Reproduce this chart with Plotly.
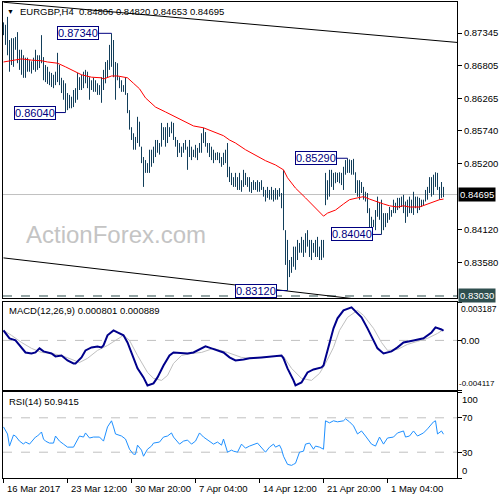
import plotly.graph_objects as go

# ---------------- data ----------------
chart_title = "EURGBP,H4  0.84806 0.84820 0.84653 0.84695"
macd_title = "MACD(12,26,9) 0.000801 0.000889"
rsi_title = "RSI(14) 50.9415"
watermark = "ActionForex.com"

highs = [
    0.8752, 0.8748, 0.8761, 0.8723, 0.8726, 0.8726, 0.8728, 0.8736, 0.8707, 0.8707,
    0.8698, 0.8694, 0.8694, 0.8690, 0.8688, 0.8694, 0.8707, 0.8698, 0.8698, 0.8731,
    0.8695, 0.8682, 0.8679, 0.8671, 0.8669, 0.8666, 0.8671, 0.8702, 0.8682, 0.8661,
    0.8657, 0.8652, 0.8636, 0.8633, 0.8630, 0.8641, 0.8644, 0.8669, 0.8662, 0.8666,
    0.8671, 0.8674, 0.8671, 0.8662, 0.8657, 0.8661, 0.8657, 0.8652, 0.8649, 0.8662,
    0.8674, 0.8687, 0.8690, 0.8715, 0.8734, 0.8723, 0.8687, 0.8685, 0.8662, 0.8657,
    0.8649, 0.8662, 0.8636, 0.8608, 0.8580, 0.8570, 0.8564, 0.8597, 0.8589, 0.8548,
    0.8531, 0.8526, 0.8521, 0.8543, 0.8543, 0.8548, 0.8559, 0.8559, 0.8554, 0.8587,
    0.8580, 0.8580, 0.8587, 0.8580, 0.8589, 0.8587, 0.8564, 0.8559, 0.8554, 0.8548,
    0.8554, 0.8559, 0.8548, 0.8559, 0.8548, 0.8543, 0.8551, 0.8546, 0.8554, 0.8570,
    0.8579, 0.8572, 0.8554, 0.8554, 0.8548, 0.8543, 0.8538, 0.8539, 0.8538, 0.8531,
    0.8538, 0.8543, 0.8554, 0.8515, 0.8505, 0.8498, 0.8505, 0.8498, 0.8505, 0.8493,
    0.8510, 0.8505, 0.8498, 0.8498, 0.8490, 0.8493, 0.8490, 0.8493, 0.8490, 0.8493,
    0.8482, 0.8477, 0.8482, 0.8477, 0.8482, 0.8477, 0.8480, 0.8477, 0.8480, 0.8472,
    0.8510, 0.8411, 0.8395, 0.8362, 0.8367, 0.8384, 0.8384, 0.8395, 0.8390, 0.8400,
    0.8395, 0.8406, 0.8411, 0.8395, 0.8395, 0.8390, 0.8395, 0.8400, 0.8384, 0.8395,
    0.8395, 0.8505, 0.8493, 0.8510, 0.8510, 0.8505, 0.8506, 0.8505, 0.8506, 0.8505,
    0.8515, 0.8526, 0.8529, 0.8527, 0.8526, 0.8528, 0.8506, 0.8493, 0.8493, 0.8490,
    0.8482, 0.8474, 0.8472, 0.8447, 0.8433, 0.8428, 0.8444, 0.8466, 0.8456, 0.8461,
    0.8439, 0.8439, 0.8439, 0.8449, 0.8444, 0.8461, 0.8456, 0.8464, 0.8464, 0.8466,
    0.8469, 0.8458, 0.8461, 0.8466, 0.8461, 0.8474, 0.8466, 0.8466, 0.8464, 0.8461,
    0.8461, 0.8477, 0.8482, 0.8498, 0.8498, 0.8502, 0.8506, 0.8505, 0.8482, 0.8490,
    0.84820,
]

lows = [
    0.8731, 0.8715, 0.8698, 0.8671, 0.8682, 0.8679, 0.8707, 0.8685, 0.8674, 0.8666,
    0.8661, 0.8661, 0.8671, 0.8671, 0.8668, 0.8674, 0.8671, 0.8674, 0.8677, 0.8685,
    0.8657, 0.8654, 0.8651, 0.8649, 0.8646, 0.8644, 0.8649, 0.8654, 0.8649, 0.8636,
    0.8625, 0.8604, 0.8608, 0.8611, 0.8611, 0.8613, 0.8620, 0.8625, 0.8641, 0.8641,
    0.8644, 0.8652, 0.8644, 0.8625, 0.8641, 0.8638, 0.8638, 0.8633, 0.8633, 0.8620,
    0.8641, 0.8652, 0.8662, 0.8674, 0.8679, 0.8662, 0.8625, 0.8657, 0.8644, 0.8638,
    0.8638, 0.8633, 0.8603, 0.8576, 0.8559, 0.8543, 0.8543, 0.8554, 0.8548, 0.8521,
    0.8482, 0.8505, 0.8505, 0.8505, 0.8515, 0.8521, 0.8531, 0.8538, 0.8535, 0.8548,
    0.8559, 0.8548, 0.8554, 0.8564, 0.8570, 0.8559, 0.8548, 0.8531, 0.8538, 0.8531,
    0.8538, 0.8543, 0.8510, 0.8531, 0.8526, 0.8531, 0.8530, 0.8526, 0.8538, 0.8538,
    0.8554, 0.8548, 0.8538, 0.8531, 0.8526, 0.8521, 0.8526, 0.8526, 0.8521, 0.8515,
    0.8518, 0.8521, 0.8498, 0.8490, 0.8485, 0.8482, 0.8482, 0.8477, 0.8477, 0.8474,
    0.8482, 0.8485, 0.8482, 0.8474, 0.8472, 0.8477, 0.8477, 0.8474, 0.8474, 0.8477,
    0.8466, 0.8458, 0.8464, 0.8461, 0.8461, 0.8458, 0.8461, 0.8461, 0.8466, 0.8447,
    0.8411, 0.8354, 0.8312, 0.8334, 0.8341, 0.8351, 0.8346, 0.8362, 0.8374, 0.8374,
    0.8367, 0.8374, 0.8384, 0.8367, 0.8362, 0.8374, 0.8367, 0.8367, 0.8362, 0.8362,
    0.8366, 0.8452, 0.8461, 0.8466, 0.8482, 0.8477, 0.8488, 0.8490, 0.8488, 0.8485,
    0.8477, 0.8502, 0.8505, 0.8505, 0.8502, 0.8502, 0.8472, 0.8466, 0.8461, 0.8472,
    0.8461, 0.8458, 0.8439, 0.8411, 0.8411, 0.8416, 0.8411, 0.8433, 0.8428, 0.8404,
    0.8411, 0.8416, 0.8423, 0.8428, 0.8433, 0.8439, 0.8439, 0.8444, 0.8447, 0.8449,
    0.8439, 0.8423, 0.8433, 0.8439, 0.8439, 0.8436, 0.8447, 0.8439, 0.8444, 0.8449,
    0.8452, 0.8458, 0.8461, 0.8472, 0.8466, 0.8469, 0.8482, 0.8477, 0.8461, 0.8464,
    0.84653,
]

ma_idx = [0, 5, 9, 14, 19, 22, 27, 31, 35, 39,
          44, 49, 50, 54, 57, 61, 62, 65, 68, 71,
          76, 81, 86, 90, 95, 100, 105, 110, 113, 116,
          121, 126, 131, 136, 140, 142, 146, 151, 156, 160,
          162, 166, 170, 173, 177, 180, 183, 187, 190, 193,
          197, 200, 203, 208, 212, 215, 218, 220]
ma_val = [0.8687, 0.8690, 0.8692, 0.8690, 0.8689, 0.8687, 0.8685, 0.8679, 0.8672, 0.8666,
          0.8662, 0.8661, 0.8659, 0.8664, 0.8664, 0.8662, 0.8661, 0.8652, 0.8643, 0.8628,
          0.8613, 0.8605, 0.8597, 0.8590, 0.8582, 0.8579, 0.8572, 0.8566, 0.8559, 0.8554,
          0.8543, 0.8534, 0.8525, 0.8518, 0.8510, 0.8497, 0.8480, 0.8464, 0.8447, 0.8434,
          0.8439, 0.8444, 0.8454, 0.8461, 0.8464, 0.8466, 0.8462, 0.8457, 0.8454, 0.8451,
          0.8449, 0.8451, 0.8449, 0.8449, 0.8454, 0.8457, 0.8461, 0.8462]

macd_idx = [0, 3, 6, 9, 11, 14, 16, 18, 20, 24,
            26, 29, 32, 35, 36, 39, 41, 44, 47, 49,
            50, 52, 55, 57, 60, 62, 65, 67, 70, 72,
            75, 77, 80, 83, 85, 89, 92, 95, 99, 101,
            104, 107, 110, 113, 116, 120, 123, 129, 134, 139,
            140, 142, 145, 146, 149, 152, 155, 159, 160, 163,
            165, 167, 170, 174, 175, 179, 182, 185, 187, 190,
            194, 197, 200, 205, 210, 214, 216, 219, 220]
macd_val = [0.00083, 0.00017, 0.0, -0.00066, -0.00100, -0.00108, -0.00100, -0.00066, -0.00091, -0.00108,
            -0.00133, -0.00125, -0.00166, -0.00191, -0.00191, -0.00141, -0.00083, -0.00058, -0.00050, -0.00058,
            -0.00042, 0.00042, 0.00083, 0.00066, 0.00042, -0.00017, -0.00141, -0.00232, -0.00307, -0.00374,
            -0.00357, -0.00307, -0.00208, -0.00125, -0.00100, -0.00108, -0.00108, -0.00100, -0.00066, -0.00050,
            -0.00066, -0.00083, -0.00100, -0.00141, -0.00166, -0.00158, -0.00149, -0.00141, -0.00133, -0.00125,
            -0.00149, -0.00232, -0.00332, -0.00374, -0.00349, -0.00266, -0.00241, -0.00224, -0.00208, -0.00017,
            0.00100, 0.00183, 0.00249, 0.00274, 0.00257, 0.00191, 0.00100, 0.0, -0.00066, -0.00108,
            -0.00091, -0.00058, -0.00017, 0.0, 0.00017, 0.00066, 0.00108, 0.00091, 0.00080]

sig_idx = [0, 4, 9, 14, 19, 24, 29, 34, 38, 42,
           47, 52, 56, 60, 63, 67, 72, 75, 79, 82,
           85, 89, 94, 99, 105, 112, 119, 124, 129, 134,
           140, 144, 149, 154, 158, 161, 165, 168, 172, 177,
           180, 185, 189, 192, 197, 202, 207, 212, 217, 220]
sig_val = [0.00083, 0.00042, -0.00017, -0.00066, -0.00100, -0.00108, -0.00125, -0.00158, -0.00183, -0.00149,
           -0.00083, -0.00042, 0.0, 0.00042, 0.0, -0.00125, -0.00266, -0.00315, -0.00332, -0.00291,
           -0.00191, -0.00125, -0.00108, -0.00100, -0.00066, -0.00100, -0.00141, -0.00149, -0.00141, -0.00133,
           -0.00133, -0.00232, -0.00315, -0.00332, -0.00274, -0.00191, -0.00058, 0.00083, 0.00191, 0.00249,
           0.00208, 0.00100, -0.00017, -0.00083, -0.00075, -0.00033, -0.00008, 0.00017, 0.00058, 0.00089]

rsi_idx = [0, 2, 3, 5, 6, 8, 10, 11, 13, 15,
           16, 17, 19, 20, 21, 23, 25, 26, 28, 30,
           32, 35, 36, 38, 40, 41, 43, 45, 48, 50,
           52, 54, 55, 56, 59, 61, 63, 65, 66, 67,
           69, 70, 72, 74, 75, 78, 80, 82, 84, 85,
           88, 90, 92, 94, 96, 98, 100, 103, 105, 107,
           109, 110, 112, 114, 115, 117, 119, 121, 123, 127,
           129, 131, 133, 135, 136, 138, 139, 140, 142, 144,
           145, 146, 148, 150, 151, 153, 155, 156, 158, 160,
           161, 163, 165, 167, 170, 171, 173, 175, 177, 179,
           181, 184, 186, 188, 190, 192, 195, 197, 200, 201,
           203, 205, 207, 210, 212, 215, 216, 217, 219, 220]
rsi_val = [59.4, 51.2, 37.1, 50.0, 48.8, 42.9, 39.4, 41.8, 39.4, 45.3,
           47.6, 48.8, 53.5, 45.3, 42.9, 40.6, 40.6, 48.8, 42.9, 39.4,
           35.9, 35.9, 40.6, 48.8, 47.6, 52.4, 46.5, 47.6, 47.6, 42.9,
           59.4, 66.5, 59.4, 51.2, 48.8, 45.3, 33.5, 27.6, 27.6, 38.2,
           32.4, 25.3, 33.5, 37.1, 40.6, 41.8, 47.6, 48.8, 52.4, 47.6,
           39.4, 42.9, 44.1, 39.4, 42.9, 52.4, 47.6, 42.9, 39.4, 41.8,
           38.2, 45.3, 30.0, 32.4, 31.2, 30.0, 39.4, 34.7, 37.1, 40.6,
           34.7, 30.0, 35.9, 39.4, 35.9, 38.2, 33.5, 25.3, 15.9, 14.7,
           15.9, 17.1, 30.0, 31.2, 39.4, 40.6, 33.5, 37.1, 35.9, 33.5,
           66.5, 64.1, 66.5, 65.3, 66.5, 68.8, 65.3, 60.6, 51.2, 54.7,
           48.8, 39.4, 37.1, 47.6, 39.4, 46.5, 47.6, 52.4, 54.7, 47.6,
           48.8, 54.7, 48.8, 52.4, 57.1, 65.3, 66.5, 51.2, 54.7, 50.9]

price_ticks = [0.87345, 0.86805, 0.86265, 0.85740, 0.85200, 0.84120, 0.83580]
last_price = 0.84695
support_level = 0.83030
macd_levels = [0.003187, 0.0, -0.004117]
macd_level_text = ["0.003187", "0.00", "-0.004117"]
rsi_levels = [100, 70, 30, 0]

date_ticks_idx = [0, 32, 64, 96, 128, 160, 192]
date_labels = ["16 Mar 2017", "23 Mar 12:00", "30 Mar 20:00", "7 Apr 04:00",
               "14 Apr 12:00", "21 Apr 20:00", "1 May 04:00"]

label_texts = ["0.87340", "0.86040", "0.85290", "0.84040", "0.83120"]
label_prices = [0.87340, 0.86040, 0.85290, 0.84040, 0.83120]
label_bars = [54, 31, 172, 189, 142]

upper_tl_idx = [0, 227]
upper_tl_val = [0.8785, 0.8719]
lower_tl_idx = [0, 227]
lower_tl_val = [0.83655, 0.82786]

# ---------------- styles ----------------
FONT = "Tahoma, 'Liberation Sans', Arial, sans-serif"
BAR_C = "#123e5a"
NAVY = "#000080"
label_box_right = [47.75, 26.25, 166.75, 184.75, 136.75]
X_RANGE = [-0.25, 226.75]

fig = go.Figure()

# trendlines
fig.add_trace(go.Scatter(x=upper_tl_idx, y=upper_tl_val, mode="lines",
                         line=dict(color="black", width=1), hoverinfo="skip"))
fig.add_trace(go.Scatter(x=lower_tl_idx, y=lower_tl_val, mode="lines",
                         line=dict(color="black", width=1), hoverinfo="skip"))

# price bars (high-low)
bx, by = [], []
for i, (h, l) in enumerate(zip(highs, lows)):
    bx += [i, i, None]
    by += [l, h, None]
fig.add_trace(go.Scatter(x=bx, y=by, mode="lines", line=dict(color=BAR_C, width=1),
                         hoverinfo="skip"))

# moving average
fig.add_trace(go.Scatter(x=ma_idx, y=ma_val, mode="lines",
                         line=dict(color="#ff0000", width=1), hoverinfo="skip"))

# MACD
fig.add_trace(go.Scatter(x=sig_idx, y=sig_val, mode="lines", xaxis="x2", yaxis="y2",
                         line=dict(color="#c0c0c0", width=1), hoverinfo="skip"))
fig.add_trace(go.Scatter(x=macd_idx, y=macd_val, mode="lines", xaxis="x2", yaxis="y2",
                         line=dict(color="#00008b", width=2), hoverinfo="skip"))

# RSI
fig.add_trace(go.Scatter(x=rsi_idx, y=rsi_val, mode="lines", xaxis="x3", yaxis="y3",
                         line=dict(color="#1e90ff", width=1), hoverinfo="skip"))

shapes = [
    dict(type="line", xref="x domain", yref="y", x0=0, x1=1, y0=last_price, y1=last_price,
         line=dict(color="#c0c0c0", width=1), layer="below"),
    dict(type="line", xref="x domain", yref="y", x0=0, x1=1, y0=support_level, y1=support_level,
         line=dict(color="#2f4f4f", width=1, dash="dash"), layer="below"),
    dict(type="line", xref="x2 domain", yref="y2", x0=0, x1=1, y0=0, y1=0,
         line=dict(color="#c0c0c0", width=1, dash="dash"), layer="below"),
    dict(type="line", xref="x3 domain", yref="y3", x0=0, x1=1, y0=70, y1=70,
         line=dict(color="#c0c0c0", width=1, dash="dash"), layer="below"),
    dict(type="line", xref="x3 domain", yref="y3", x0=0, x1=1, y0=30, y1=30,
         line=dict(color="#c0c0c0", width=1, dash="dash"), layer="below"),
]

annotations = []
for txt, p, b, r in zip(label_texts, label_prices, label_bars, label_box_right):
    shapes.append(dict(type="line", xref="x", yref="y", x0=r, x1=b, y0=p, y1=p,
                       line=dict(color=NAVY, width=1)))
    annotations.append(dict(x=r, y=p, xref="x", yref="y", text=txt, showarrow=False,
                            xanchor="right", yanchor="middle",
                            font=dict(family=FONT, size=11, color=NAVY),
                            bgcolor="white", bordercolor=NAVY, borderwidth=1, borderpad=0))

# highlighted price labels on the axis
annotations.append(dict(x=1, y=last_price, xref="paper", yref="y", text=f"{last_price:.5f}",
                        showarrow=False, xanchor="left", yanchor="middle", xshift=1,
                        font=dict(family=FONT, size=9.5, color="white"),
                        bgcolor="black", borderpad=1))
annotations.append(dict(x=1, y=support_level, xref="paper", yref="y", text=f"{support_level:.5f}",
                        showarrow=False, xanchor="left", yanchor="middle", xshift=1,
                        font=dict(family=FONT, size=9.5, color="white"),
                        bgcolor="#2f4f4f", borderpad=1))

# MACD axis labels
annotations.append(dict(x=1, y=1, xref="paper", yref="y2 domain", text=macd_level_text[0],
                        showarrow=False, xanchor="left", yanchor="top", xshift=2,
                        font=dict(family=FONT, size=8.5, color="black")))
annotations.append(dict(x=1, y=macd_levels[1], xref="paper", yref="y2", text=macd_level_text[1],
                        showarrow=False, xanchor="left", yanchor="middle", xshift=2,
                        font=dict(family=FONT, size=9.5, color="black")))
annotations.append(dict(x=1, y=0, xref="paper", yref="y2 domain", text=macd_level_text[2],
                        showarrow=False, xanchor="left", yanchor="bottom", xshift=0,
                        font=dict(family=FONT, size=8, color="black")))

# RSI axis labels
for lv in rsi_levels:
    if lv == 100:
        annotations.append(dict(x=1, y=1, xref="paper", yref="y3 domain", text=str(lv),
                                showarrow=False, xanchor="left", yanchor="top", xshift=3,
                                font=dict(family=FONT, size=9.5, color="black")))
    elif lv == 0:
        annotations.append(dict(x=1, y=0, xref="paper", yref="y3 domain", text=str(lv),
                                showarrow=False, xanchor="left", yanchor="bottom", xshift=3,
                                font=dict(family=FONT, size=9.5, color="black")))
    else:
        annotations.append(dict(x=1, y=lv, xref="paper", yref="y3", text=str(lv),
                                showarrow=False, xanchor="left", yanchor="middle", xshift=3,
                                font=dict(family=FONT, size=9.5, color="black")))

# date labels
for idx, lab in zip(date_ticks_idx, date_labels):
    annotations.append(dict(x=idx, y=0.024, xref="x", yref="paper", text=lab, showarrow=False,
                            xanchor="left", yanchor="middle", xshift=1,
                            font=dict(family=FONT, size=9.5, color="black")))

# titles
annotations.append(dict(x=0.0165, y=0.978, xref="paper", yref="paper", text="▼", showarrow=False,
                        xanchor="center", yanchor="middle", font=dict(family=FONT, size=7, color="black")))
annotations.append(dict(x=0.033, y=0.978, xref="paper", yref="paper", text=chart_title,
                        showarrow=False, xanchor="left", yanchor="middle",
                        font=dict(family=FONT, size=9.5, color="black")))
annotations.append(dict(x=0.0088, y=0.38, xref="paper", yref="paper", text=macd_title,
                        showarrow=False, xanchor="left", yanchor="middle",
                        font=dict(family=FONT, size=9.5, color="black")))
annotations.append(dict(x=0.0088, y=0.198, xref="paper", yref="paper", text=rsi_title,
                        showarrow=False, xanchor="left", yanchor="middle",
                        font=dict(family=FONT, size=9.5, color="black")))
annotations.append(dict(x=0.249, y=0.532, xref="paper", yref="paper", text=watermark,
                        showarrow=False, xanchor="center", yanchor="middle",
                        font=dict(family="'Liberation Sans', Arial, sans-serif", size=24, color="#c4c4c4")))

ax = dict(showgrid=False, zeroline=False, showline=True, mirror=True,
          linecolor="black", linewidth=1, automargin=False)

fig.update_layout(
    template="none",
    width=500, height=500,
    margin=dict(l=3, r=43, t=0, b=0),
    paper_bgcolor="white", plot_bgcolor="white",
    showlegend=False,
    hovermode=False,
    xaxis=dict(domain=[0, 1], anchor="y", range=X_RANGE, showticklabels=False, ticks="", **ax),
    xaxis2=dict(domain=[0, 1], anchor="y2", matches="x", range=X_RANGE, showticklabels=False, ticks="", **ax),
    xaxis3=dict(domain=[0, 1], anchor="y3", matches="x", range=X_RANGE, tickmode="array",
                tickvals=date_ticks_idx, showticklabels=False, ticks="outside", ticklen=4,
                tickcolor="black", **ax),
    yaxis=dict(domain=[0.404, 0.996], anchor="x", side="right", range=[0.82997, 0.87854],
               tickmode="array", tickvals=price_ticks, ticktext=[f"{v:.5f}" for v in price_ticks],
               ticks="outside", ticklen=4, tickcolor="black",
               tickfont=dict(family=FONT, size=9.5, color="black"), **ax),
    yaxis2=dict(domain=[0.22, 0.396], anchor="x2", side="right", range=[-0.004117, 0.003187],
                tickmode="array", tickvals=macd_levels, showticklabels=False,
                ticks="outside", ticklen=4, tickcolor="black", **ax),
    yaxis3=dict(domain=[0.044, 0.216], anchor="x3", side="right", range=[0, 100],
                tickmode="array", tickvals=rsi_levels, showticklabels=False,
                ticks="outside", ticklen=4, tickcolor="black", **ax),
    shapes=shapes,
    annotations=annotations,
)

fig.write_html("out.html", config={"displayModeBar": False, "staticPlot": True},
               post_script="document.body.style.margin='0px';document.body.style.padding='0px';")
